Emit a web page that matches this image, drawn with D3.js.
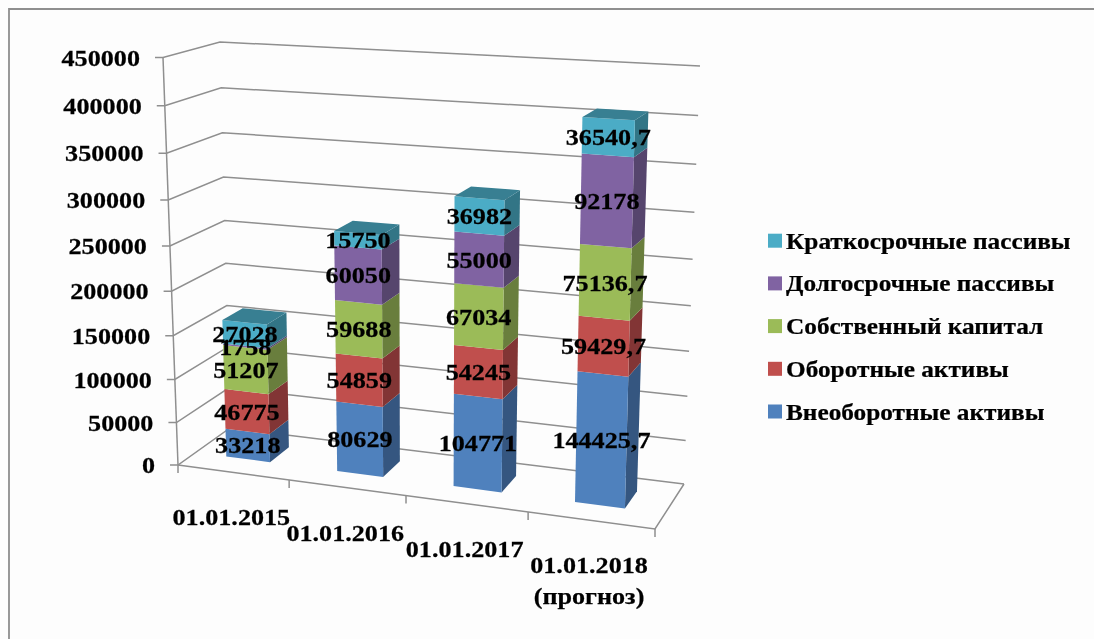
<!DOCTYPE html>
<html><head><meta charset="utf-8">
<script src="https://cdn.jsdelivr.net/npm/d3@7"></script>
<style>html,body{margin:0;padding:0;background:#fff}svg{display:block}text{font-family:"Liberation Serif",serif;font-weight:bold;fill:#000;stroke:#000;stroke-width:0.25px}</style>
</head><body><svg id="c" width="1094" height="639"></svg>
<script>
const categories=["01.01.2015","01.01.2016","01.01.2017","01.01.2018\n(прогноз)"];
const seriesNames=["Внеоборотные активы","Оборотные активы","Собственный капитал","Долгосрочные пассивы","Краткосрочные пассивы"];
const seriesColors=["#4f81bd","#c0504d","#9bbb59","#8064a2","#4bacc6"];
const vneoborotnye=[33218,80629,104771,144425.7];
const oborotnye=[46775,54859,54245,59429.7];
const sobstvenny=[51207,59688,67034,75136.7];
const dolgosrochnye=[1758,60050,55000,92178];
const kratkosrochnye=[27028,15750,36982,36540.7];
const seriesValues=[vneoborotnye,oborotnye,sobstvenny,dolgosrochnye,kratkosrochnye];
const valueTicks=[0,50000,100000,150000,200000,250000,300000,350000,400000,450000];

const fmt=v=>String(v).replace(".",",");
const svg=d3.select("#c");
const defs=svg.append("defs");
defs.append("filter").attr("id","soft").attr("x","-5%").attr("y","-5%").attr("width","110%").attr("height","110%")
  .append("feGaussianBlur").attr("stdDeviation",0.55);
svg.append("rect").attr("width",1094).attr("height",639).attr("fill","#fdfdfd");
const root=svg.append("g").attr("filter","url(#soft)");

// 3D box of the plot: bottom/top corners on the picture
const corners={FLb:[178,465],FRb:[655,529],BRb:[684,484],BLb:[230,428],
               FLt:[163,57.5],FRt:[667,86],BRt:[700,66],BLt:[220,42]};
const lerp=(a,b,t)=>[a[0]+(b[0]-a[0])*t,a[1]+(b[1]-a[1])*t];
const valueT=d3.scaleLinear().domain([0,450000]).range([0,1]);
const k=0.07;
const heightFrac=v=>{const t=valueT(v);return t*(1-k)/(1-k*t);};
const bandU=d3.scaleLinear().domain([0,1,2,3,4]).range([0,0.233,0.478,0.734,1]);
function project(u,d,v){
  const c=corners,h=heightFrac(v);
  const b=lerp(lerp(c.FLb,c.FRb,u),lerp(c.BLb,c.BRb,u),d);
  const t=lerp(lerp(c.FLt,c.FRt,u),lerp(c.BLt,c.BRt,u),d);
  return lerp(b,t,h);
}
const line=d3.line();
const grid="#8f8f8f";

// outer frame: left and top edges only
root.append("path").attr("d",line([[9,645],[9,9],[1100,9]])).attr("fill","none").attr("stroke","#8e8e8e").attr("stroke-width",1.8);

// gridlines on the walls
root.append("g").selectAll("path").data(valueTicks).join("path")
  .attr("d",v=>line([[project(0,0,v)[0]-8,project(0,0,v)[1]],project(0,0,v),project(0,1,v),project(1,1,v)]))
  .attr("fill","none").attr("stroke",grid).attr("stroke-width",1.5);
// floor and value axis
root.append("path").attr("d",line([project(0,0,0),project(1,0,0),project(1,1,0)])).attr("fill","none").attr("stroke",grid).attr("stroke-width",1.5);
root.append("path").attr("d",line([project(0,0,0),project(0,0,450000)])).attr("fill","none").attr("stroke",grid).attr("stroke-width",1.5);
root.append("g").selectAll("path").data(d3.range(0,5)).join("path")
  .attr("d",i=>{const p=project(bandU(i),0,0);return line([p,[p[0],p[1]+8]]);})
  .attr("stroke",grid).attr("stroke-width",1.5);

// bars
const dFront=0.34,dBack=0.73,bandA=0.28,bandB=0.68;
categories.forEach((cat,i)=>{
  const uL=bandU(i+bandA),uR=bandU(i+bandB);
  let base=0;
  const g=root.append("g");
  seriesValues.forEach((vals,s)=>{
    const v0=base,v1=base+vals[i];base=v1;
    const col=seriesColors[s],dark=d3.rgb(col).darker(1.1).formatHex();
    g.append("path").attr("fill",dark).attr("d",line([project(uR,dFront,v0),project(uR,dBack,v0),project(uR,dBack,v1),project(uR,dFront,v1)])+"Z");
    g.append("path").attr("fill",col).attr("d",line([project(uL,dFront,v0),project(uR,dFront,v0),project(uR,dFront,v1),project(uL,dFront,v1)])+"Z");
    if(s===seriesValues.length-1){
      g.append("path").attr("fill",d3.rgb(col).darker(0.85).formatHex()).attr("d",line([project(uL,dFront,v1),project(uR,dFront,v1),project(uR,dBack,v1),project(uL,dBack,v1)])+"Z");
    }
  });
});

function stretched(parent,x,y,str,anchor,fs,sx){
  return parent.append("text").attr("transform",`translate(${x},${y}) scale(${sx},1)`)
    .attr("text-anchor",anchor).attr("dominant-baseline","central").attr("font-size",fs).text(str);
}
// data labels
const labels=root.append("g");
categories.forEach((cat,i)=>{
  const uM=bandU(i+(bandA+bandB)/2);
  let base=0;
  seriesValues.forEach(vals=>{
    const mid=base+vals[i]/2;base+=vals[i];
    const p=project(uM,dFront,mid);
    stretched(labels,p[0],p[1],fmt(vals[i]),"middle",24,1.09);
  });
});
// value axis labels
const yl=root.append("g");
valueTicks.forEach(v=>{const p=project(0,0,v);stretched(yl,p[0]-23,p[1],String(v),"end",24,1.09);});
// category labels
const xl=root.append("g");
categories.forEach((cat,i)=>{
  const p=project(bandU(i+(bandA+bandB)/2),0,0);
  cat.split("\n").forEach((t,j)=>stretched(xl,p[0],p[1]+45+j*31,t,"middle",24,1.09));
});
// legend (reverse order)
const legendY=d3.scalePoint().domain(d3.range(5)).range([240.7,411.5]);
const lg=root.append("g");
[...seriesNames].reverse().forEach((n,j)=>{
  const c=[...seriesColors].reverse()[j];
  lg.append("rect").attr("x",768).attr("y",legendY(j)-7).attr("width",14).attr("height",14).attr("fill",c);
  stretched(lg,786,legendY(j),n,"start",23,1.1);
});
</script></body></html>
